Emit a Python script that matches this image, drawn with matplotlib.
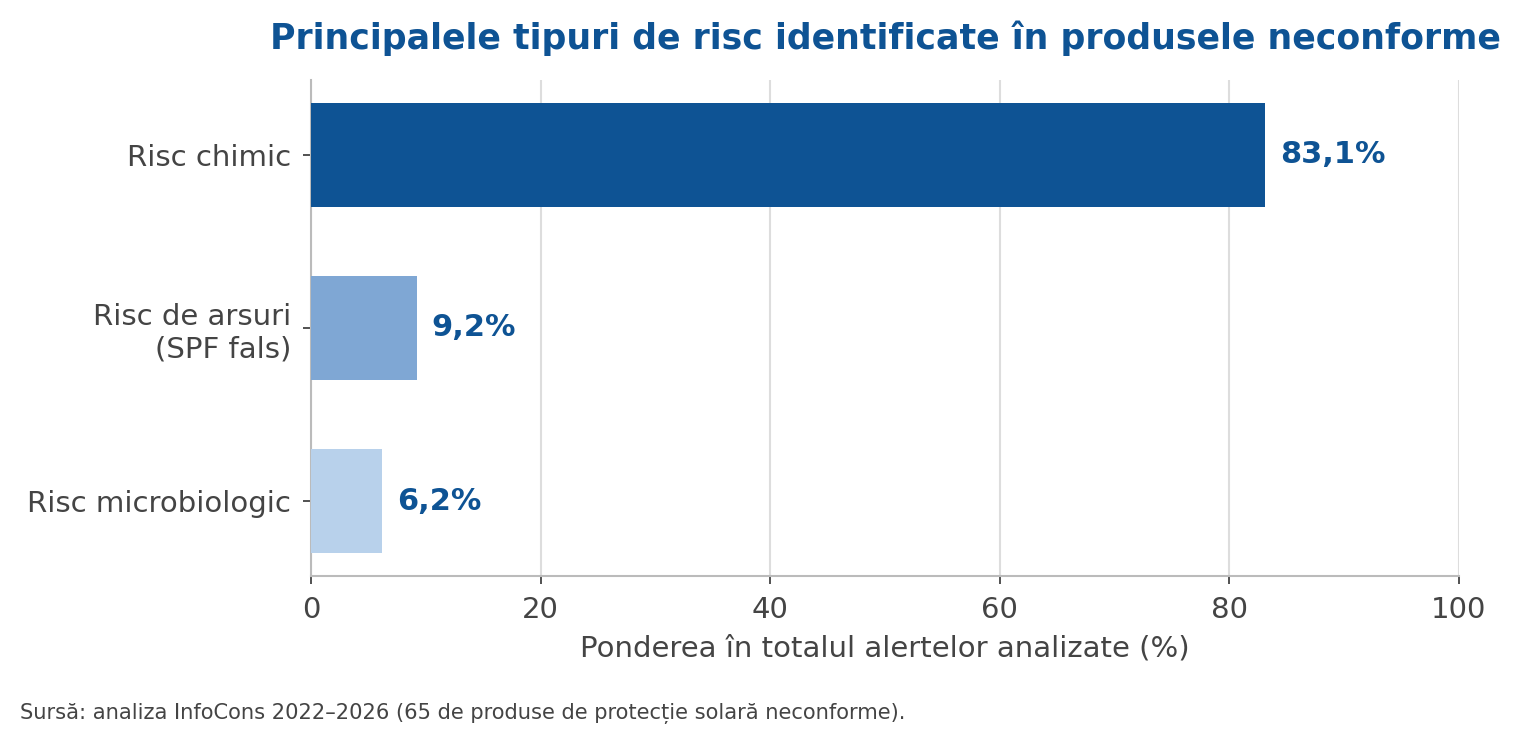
import matplotlib
matplotlib.use("Agg")
import matplotlib.pyplot as plt

categories = ["Risc chimic", "Risc de arsuri\n(SPF fals)", "Risc microbiologic"]
values = [83.1, 9.2, 6.2]
labels = ["83,1%", "9,2%", "6,2%"]
colors = ["#0e5394", "#7fa7d4", "#b8d1eb"]
xticks = [0, 20, 40, 60, 80, 100]

plt.rcParams['font.family'] = ['DejaVu Sans']
fig = plt.figure(figsize=(1520/150, 743/150), dpi=150)
ax = fig.add_axes([311/1520, 1-576/743, (1459-311)/1520, (576-80)/743])

y = list(range(len(categories)))
ax.barh(y, values, height=0.6, color=colors, zorder=3)
ax.invert_yaxis()
ax.set_yticks(y)
ax.set_yticklabels(categories, fontsize=14, color="#444444")
ax.set_xlim(0, 100)
ax.set_xticks(xticks)
ax.set_xticklabels([str(t) for t in xticks], fontsize=14, color="#444444")
ax.set_xlabel("Ponderea în totalul alertelor analizate (%)", fontsize=14, color="#444444", labelpad=5)
ax.grid(axis="x", color="#dddddd", linewidth=1, zorder=0)
ax.set_axisbelow(True)
for s in ["top", "right"]:
    ax.spines[s].set_visible(False)
for s in ["left", "bottom"]:
    ax.spines[s].set_color("#bbbbbb")
    ax.spines[s].set_linewidth(1)
ax.tick_params(axis="both", colors="#333333", labelcolor="#444444", length=4, pad=5.5)

for yi, v, lab in zip(y, values, labels):
    ax.text(v + 1.3, yi, lab, va="center", ha="left", fontsize=14.6, fontweight="bold", color="#0e5394")

ax.set_title("Principalele tipuri de risc identificate în produsele neconforme",
             fontsize=16.7, fontweight="bold", color="#0e5394", pad=15)

fig.text(20/1520, 1-713/743, "Sursă: analiza InfoCons 2022–2026 (65 de produse de protecție solară neconforme).",
         fontsize=10.1, color="#444444", va="center", ha="left")

fig.savefig("out.png", dpi=150)
